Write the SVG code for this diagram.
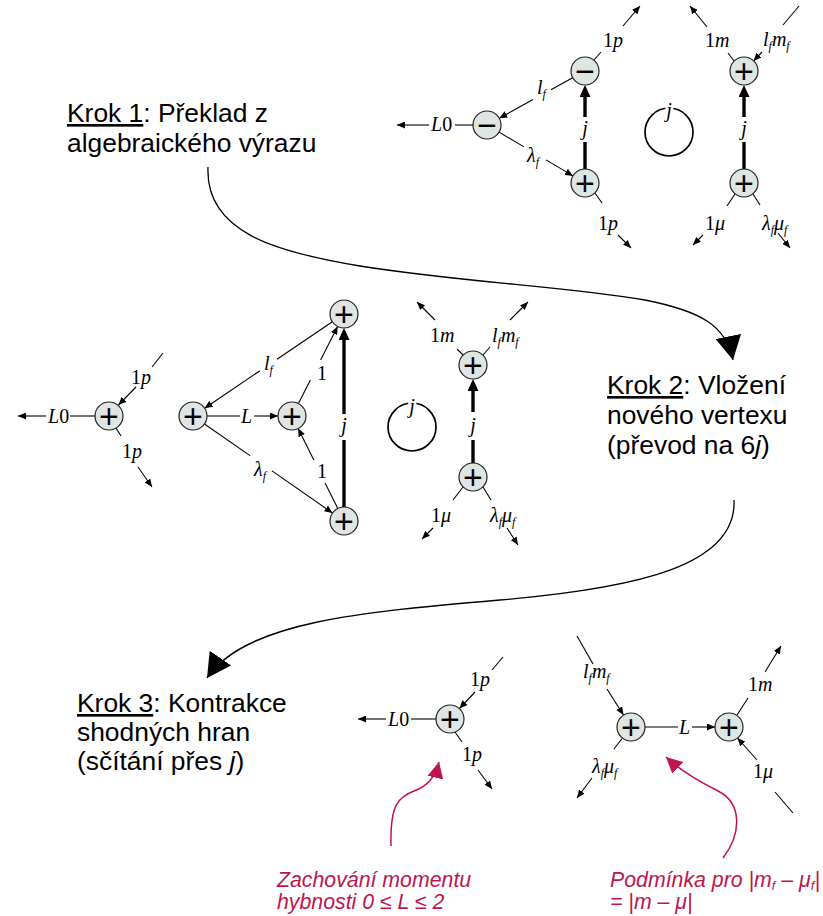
<svg xmlns="http://www.w3.org/2000/svg" width="823" height="916" viewBox="0 0 823 916">
<defs>
<style>
.nd circle{fill:#dfe5e3;stroke:#222;stroke-width:1.2}
.nd text{font-family:"DejaVu Sans",sans-serif;font-size:26px;text-anchor:middle;dominant-baseline:central;fill:#000;stroke:#000;stroke-width:0.2}
.e{stroke:#000;stroke-width:1.1;fill:none}
.a{marker-end:url(#ah)}
.th{stroke-width:3.4}
.tha{marker-end:url(#aht)}
.lp{stroke-width:1.7}
.lb{font-family:"Liberation Serif","DejaVu Serif",serif;font-size:20px;fill:#000}
.it{font-style:italic}
.sb{font-size:12px}
.halo{stroke:#fff;stroke-width:5px;paint-order:stroke;stroke-linejoin:round}
.kr{font-family:"Liberation Sans",Arial,sans-serif;font-size:26.4px;fill:#000}
.u{text-decoration:underline}
.rd{font-family:"Liberation Sans",Arial,sans-serif;font-style:italic;font-size:21.3px;fill:#c0144c}
.big{stroke:#000;stroke-width:1.3;fill:none;marker-end:url(#abig)}
.rarr{stroke:#c0144c;stroke-width:1.5;fill:none;marker-end:url(#ared)}
</style>
<marker id="ah" markerUnits="userSpaceOnUse" viewBox="0 0 8 7" markerWidth="8" markerHeight="7" refX="8" refY="3.5" orient="auto"><path d="M0,0L8,3.5L0,7z" fill="#000"/></marker>
<marker id="aht" markerUnits="userSpaceOnUse" viewBox="0 0 12 11" markerWidth="12" markerHeight="11" refX="8" refY="5.5" orient="auto"><path d="M0,0L12,5.5L0,11z" fill="#000"/></marker>
<marker id="abig" markerUnits="userSpaceOnUse" viewBox="0 0 24 26" markerWidth="24" markerHeight="26" refX="24" refY="13" orient="auto"><path d="M0,0L24,13L0,26z" fill="#000"/></marker>
<marker id="ared" markerUnits="userSpaceOnUse" viewBox="0 0 16 16" markerWidth="16" markerHeight="16" refX="16" refY="8" orient="auto"><path d="M0,0L16,8L0,16z" fill="#c0144c"/></marker>
</defs>
<rect width="823" height="916" fill="#fff"/>

<!-- Step texts -->
<g id="krok1">
<text class="kr" x="67" y="122"><tspan class="u">Krok 1</tspan>: Překlad z</text>
<text class="kr" x="67" y="152">algebraického výrazu</text>
</g>
<g id="krok2">
<text class="kr" x="607" y="394"><tspan class="u">Krok 2</tspan>: Vložení</text>
<text class="kr" x="607" y="424">nového vertexu</text>
<text class="kr" x="607" y="454">(převod na 6<tspan font-style="italic">j</tspan>)</text>
</g>
<g id="krok3">
<text class="kr" x="77" y="712"><tspan class="u">Krok 3</tspan>: Kontrakce</text>
<text class="kr" x="77" y="741">shodných hran</text>
<text class="kr" x="77" y="770">(sčítání přes <tspan font-style="italic">j</tspan>)</text>
</g>
<g id="note1">
<text class="rd" x="277" y="887">Zachování momentu</text>
<text class="rd" x="277" y="909">hybnosti 0 ≤ L ≤ 2</text>
</g>
<g id="note2">
<text class="rd" x="610" y="887">Podmínka pro |m<tspan font-size="13" dy="3">f</tspan><tspan dy="-3"> – μ</tspan><tspan font-size="13" dy="3">f</tspan><tspan dy="-3">|</tspan></text>
<text class="rd" x="610" y="909">= |m – μ|</text>
</g>

<!-- Connectors -->
<g id="connectors">
<path class="big" d="M208,167C205,232 275,252 360,266C460,282 570,287 645,300C700,311 726,325 733,360"/>
<path class="big" d="M734,500C737,565 640,588 500,600C360,612 245,622 207,678"/>
<path class="rarr" d="M391,846C390,805 398,797 414,791C428,786 436,775 439,762"/>
<path class="rarr" d="M723,858C742,833 742,803 718,791C700,782 680,770 666,757"/>

<!-- TOP -->
<path class="e a" d="M429,125H397"/><path class="e" d="M455,125H473"/>
<text class="lb" x="431" y="131"><tspan class="it">L</tspan>0</text>
<path class="e" d="M572.7,77.7L551,89.7"/><path class="e a" d="M533,99.6L499.3,118.3"/>
<text class="lb" x="537" y="94"><tspan class="it">l</tspan><tspan class="it sb" dy="4">f</tspan></text>
<path class="e" d="M499,132.1L524,146.9"/><path class="e a" d="M546,159.9L573,175.9"/>
<text class="lb" x="527" y="162"><tspan class="it">λ</tspan><tspan class="it sb" dy="4">f</tspan></text>
<path class="e th" d="M585,169V142"/><path class="e th tha" d="M585,117V89"/>
<text class="lb it" x="585" y="135" text-anchor="middle">j</text>
<path class="e" d="M594,60L601,52"/><path class="e a" d="M623,26L640,6"/>
<text class="lb" x="603" y="47">1<tspan class="it">p</tspan></text>
<path class="e" d="M595,193L602,203"/><path class="e a" d="M618,235L631,248"/>
<text class="lb" x="598" y="230">1<tspan class="it">p</tspan></text>
<path class="e" d="M734,61L728,53"/><path class="e a" d="M707,27L690,6"/>
<text class="lb" x="705" y="47">1<tspan class="it">m</tspan></text>
<path class="e" d="M799,6L783,25"/><path class="e a" d="M762,52L753.5,61"/>
<text class="lb" x="763" y="46"><tspan class="it">l</tspan><tspan class="it sb" dy="4">f</tspan><tspan class="it" dy="-4">m</tspan><tspan class="it sb" dy="4">f</tspan></text>
<path class="e" d="M735,194L727,206"/><path class="e a" d="M703,235L693,245"/>
<text class="lb" x="705" y="230">1<tspan class="it">μ</tspan></text>
<path class="e" d="M753,194L760,205"/><path class="e a" d="M778,233L790,248"/>
<text class="lb" x="762" y="230"><tspan class="it">λ</tspan><tspan class="it sb" dy="4">f</tspan><tspan class="it" dy="-4">μ</tspan><tspan class="it sb" dy="4">f</tspan></text>
<path class="e th" d="M744,169V142"/><path class="e th tha" d="M744,117V89"/>
<text class="lb it" x="744" y="135" text-anchor="middle">j</text>
<circle class="e lp" cx="669" cy="132" r="24"/>
<text class="lb it halo" x="669" y="117" text-anchor="middle">j</text>

<!-- MIDDLE -->
<path class="e a" d="M46,416H18"/><path class="e" d="M70,416H95"/>
<text class="lb" x="48" y="423"><tspan class="it">L</tspan>0</text>
<path class="e" d="M163,353L152,367"/><path class="e a" d="M136,387L118.5,405"/>
<text class="lb" x="131" y="384">1<tspan class="it">p</tspan></text>
<path class="e" d="M116,428L121,436"/><path class="e a" d="M138,467L152,487"/>
<text class="lb" x="122" y="458">1<tspan class="it">p</tspan></text>
<path class="e" d="M207,416H240"/><path class="e a" d="M254,416H278"/>
<text class="lb it" x="241" y="423">L</text>
<path class="e" d="M332.4,321.8L277,359.3"/><path class="e a" d="M260,370.7L204.6,408.2"/>
<text class="lb" x="264" y="370"><tspan class="it">l</tspan><tspan class="it sb" dy="4">f</tspan></text>
<path class="e" d="M204.5,424L250,455.6"/><path class="e a" d="M272,470.9L332.5,513"/>
<text class="lb" x="254" y="476"><tspan class="it">λ</tspan><tspan class="it sb" dy="4">f</tspan></text>
<path class="e" d="M298.4,403.5L310.4,380"/><path class="e a" d="M320.6,360L337.6,326.5"/>
<text class="lb" x="317" y="380">1</text>
<path class="e" d="M337.8,508.5L325.1,483"/><path class="e a" d="M313.8,460L298.2,428.5"/>
<text class="lb" x="317" y="478">1</text>
<path class="e th" d="M344,507V440"/><path class="e th tha" d="M344,414V332"/>
<text class="lb it" x="344" y="432" text-anchor="middle">j</text>
<circle class="e lp" cx="412" cy="427" r="24"/>
<text class="lb it halo" x="412" y="413" text-anchor="middle">j</text>
<path class="e th" d="M473,463V440"/><path class="e th tha" d="M473,412V383"/>
<text class="lb it" x="473" y="432" text-anchor="middle">j</text>
<path class="e" d="M463,355L457,349"/><path class="e a" d="M435,320L417,302"/>
<text class="lb" x="430" y="342">1<tspan class="it">m</tspan></text>
<path class="e" d="M483,355L490,347"/><path class="e a" d="M510,320L528,302"/>
<text class="lb" x="492" y="342"><tspan class="it">l</tspan><tspan class="it sb" dy="4">f</tspan><tspan class="it" dy="-4">m</tspan><tspan class="it sb" dy="4">f</tspan></text>
<path class="e" d="M463,487L453,500"/><path class="e a" d="M433,528L422,539"/>
<text class="lb" x="431" y="522">1<tspan class="it">μ</tspan></text>
<path class="e" d="M483,487L491,500"/><path class="e a" d="M507,528L518,545"/>
<text class="lb" x="490" y="522"><tspan class="it">λ</tspan><tspan class="it sb" dy="4">f</tspan><tspan class="it" dy="-4">μ</tspan><tspan class="it sb" dy="4">f</tspan></text>

<!-- BOTTOM -->
<path class="e a" d="M386,719H358"/><path class="e" d="M411,719H436"/>
<text class="lb" x="388" y="726"><tspan class="it">L</tspan>0</text>
<path class="e" d="M503,657L492,670"/><path class="e a" d="M475,692L459.5,708.5"/>
<text class="lb" x="470" y="686">1<tspan class="it">p</tspan></text>
<path class="e" d="M455,732L462,742"/><path class="e a" d="M478,770L492,789"/>
<text class="lb" x="462" y="761">1<tspan class="it">p</tspan></text>
<path class="e" d="M645,727H678"/><path class="e a" d="M692,727H715"/>
<text class="lb it" x="679" y="734">L</text>
<path class="e" d="M577,636L593,664"/><path class="e a" d="M607,689L623.5,715"/>
<text class="lb" x="583" y="678"><tspan class="it">l</tspan><tspan class="it sb" dy="4">f</tspan><tspan class="it" dy="-4">m</tspan><tspan class="it sb" dy="4">f</tspan></text>
<path class="e" d="M622.5,738L614,749"/><path class="e a" d="M592,778L577,798"/>
<text class="lb" x="592" y="773"><tspan class="it">λ</tspan><tspan class="it sb" dy="4">f</tspan><tspan class="it" dy="-4">μ</tspan><tspan class="it sb" dy="4">f</tspan></text>
<path class="e" d="M737,715L748,698"/><path class="e a" d="M765,672L781,646"/>
<text class="lb" x="748" y="691">1<tspan class="it">m</tspan></text>
<path class="e" d="M793,813L775,792"/><path class="e a" d="M757,760L737.5,738"/>
<text class="lb" x="753" y="778">1<tspan class="it">μ</tspan></text>
</g>

<!-- Nodes: top -->
<g id="t-L" class="nd"><circle cx="487" cy="125" r="14"/><text x="487" y="125">−</text></g>
<g id="t-a" class="nd"><circle cx="585" cy="71" r="14"/><text x="585" y="71">−</text></g>
<g id="t-b" class="nd"><circle cx="585" cy="183" r="14"/><text x="585" y="183">+</text></g>
<g id="t-c" class="nd"><circle cx="744" cy="71" r="14"/><text x="744" y="71">+</text></g>
<g id="t-d" class="nd"><circle cx="744" cy="183" r="14"/><text x="744" y="183">+</text></g>
<!-- Nodes: middle -->
<g id="m-L" class="nd"><circle cx="109" cy="416" r="14"/><text x="109" y="416">+</text></g>
<g id="m-a" class="nd"><circle cx="193" cy="416" r="14"/><text x="193" y="416">+</text></g>
<g id="m-b" class="nd"><circle cx="292" cy="416" r="14"/><text x="292" y="416">+</text></g>
<g id="m-top" class="nd"><circle cx="344" cy="314" r="14"/><text x="344" y="314">+</text></g>
<g id="m-bot" class="nd"><circle cx="344" cy="521" r="14"/><text x="344" y="521">+</text></g>
<g id="m-c" class="nd"><circle cx="473" cy="365" r="14"/><text x="473" y="365">+</text></g>
<g id="m-d" class="nd"><circle cx="473" cy="477" r="14"/><text x="473" y="477">+</text></g>
<!-- Nodes: bottom -->
<g id="b-L" class="nd"><circle cx="450" cy="719" r="14"/><text x="450" y="719">+</text></g>
<g id="b-a" class="nd"><circle cx="631" cy="727" r="14"/><text x="631" y="727">+</text></g>
<g id="b-b" class="nd"><circle cx="729" cy="727" r="14"/><text x="729" y="727">+</text></g>
</svg>
